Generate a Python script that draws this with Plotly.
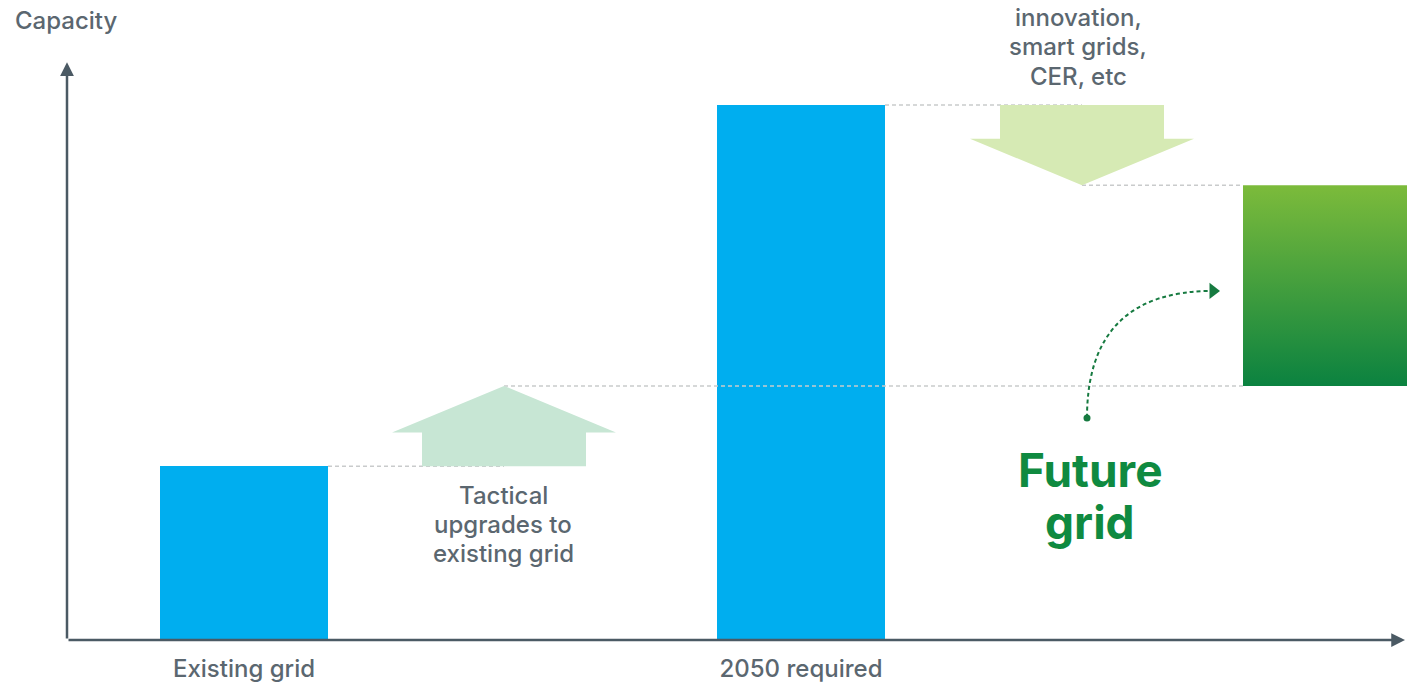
import plotly.graph_objects as go

# ---------------- data ----------------
categories = ["Existing grid", "2050 required", "Future grid"]
bar_low = [0, 0, 47.5]
bar_high = [32.5, 100, 85]
step_labels = [["Tactical", "upgrades to", "existing grid"],
               ["innovation,", "smart grids,", "CER, etc"]]
step_from = [32.5, 100]
step_to = [47.5, 85]
axis_title = "Capacity"
future_label = ["Future", "grid"]

# ---------------- layout constants ----------------
cat_x = [177, 734, 1260]
bar_w = 168
step_x = [437, 1015]
shaft_half = 82
head_half = 112
head_frac = 0.58
X_MAX = 1340
PX = 5.35            # pixels per capacity unit
Y_MAX = 640 / PX

BLUE = "#00aeef"
AXIS = "#4b5a64"
TEXT = "#5b6770"
DASH = "#c9cbcc"
GREEN = "#0f8a40"
UP_FILL = "#c7e6d4"
DOWN_FILL = "#d6eab4"
FONT = "Inter"

fig = go.Figure()

def hline(x0, x1, y):
    fig.add_trace(go.Scatter(x=[x0, x1], y=[y, y], mode="lines",
                             line=dict(color=DASH, width=1.5, dash="4px,3px"),
                             hoverinfo="skip", showlegend=False))

left = [c - bar_w / 2 for c in cat_x]
right = [c + bar_w / 2 for c in cat_x]

# dashed guide lines (drawn first so bars/arrows cover them)
hline(right[0], step_x[0], step_from[0])
hline(step_x[0], left[2], step_to[0])
hline(right[1], step_x[1], step_from[1])
hline(step_x[1], left[2], step_to[1])

# blue bars
fig.add_trace(go.Bar(x=cat_x[:2], y=[bar_high[i] - bar_low[i] for i in range(2)],
                     base=bar_low[:2], width=bar_w, marker=dict(color=BLUE, line=dict(width=0)),
                     hoverinfo="skip", showlegend=False))

# future grid bar with vertical gradient
fx = [left[2], right[2], right[2], left[2], left[2]]
fy = [bar_low[2], bar_low[2], bar_high[2], bar_high[2], bar_low[2]]
fig.add_trace(go.Scatter(x=fx, y=fy, mode="lines", fill="toself", line=dict(width=0),
                         fillgradient=dict(type="vertical",
                                           colorscale=[[0, "#0b8240"], [1, "#7cbb3b"]]),
                         hoverinfo="skip", showlegend=False))

# block arrows
for i, fill in enumerate([UP_FILL, DOWN_FILL]):
    cx, y0, y1 = step_x[i], step_from[i], step_to[i]
    yh = y1 - head_frac * (y1 - y0)
    xs = [cx - shaft_half, cx + shaft_half, cx + shaft_half, cx + head_half, cx,
          cx - head_half, cx - shaft_half, cx - shaft_half]
    ys = [y0, y0, yh, yh, y1, yh, yh, y0]
    fig.add_trace(go.Scatter(x=xs, y=ys, mode="lines", fill="toself", fillcolor=fill,
                             line=dict(width=0), hoverinfo="skip", showlegend=False))

# curved dashed arrow towards future grid bar
sx, sy = 1020, 41.5
ex, ey = left[2] - 30, (bar_low[2] + bar_high[2]) / 2 - 1
fig.add_shape(type="path", xref="x", yref="y",
              path=f"M {sx},{sy} Q {sx},{ey} {ex},{ey}",
              line=dict(color="#167a40", width=2, dash="4px,3px"))
fig.add_trace(go.Scatter(x=[sx], y=[sy], mode="markers",
                         marker=dict(symbol="circle", size=7, color="#167a40"),
                         hoverinfo="skip", showlegend=False))
fig.add_trace(go.Scatter(x=[ex], y=[ey], mode="markers",
                         marker=dict(symbol="triangle-right", size=14, color="#167a40"),
                         hoverinfo="skip", showlegend=False))

# axes as arrows
fig.add_annotation(x=0, y=108, ax=0, ay=0, xref="x", yref="y", axref="x", ayref="y",
                   text="", showarrow=True, arrowhead=2, arrowsize=1.1, arrowwidth=2.5,
                   arrowcolor=AXIS)
fig.add_annotation(x=1338, y=0, ax=0, ay=0, xref="x", yref="y", axref="x", ayref="y",
                   text="", showarrow=True, arrowhead=2, arrowsize=1.1, arrowwidth=2.5,
                   arrowcolor=AXIS)

def label_lines(lines, x, first_px, spacing, size, color, weight):
    for k, line in enumerate(lines):
        fig.add_annotation(x=x, y=(640 - first_px - k * spacing) / PX, xref="x", yref="y",
                           xanchor="center", yanchor="middle", text=line, showarrow=False,
                           font=dict(family=FONT, size=size, color=color, weight=weight))

# texts
fig.add_annotation(x=-54 / X_MAX, y=1 - 20 / 640, xref="paper", yref="paper",
                   xanchor="left", yanchor="middle", text=axis_title, showarrow=False,
                   font=dict(family=FONT, size=24, color=TEXT, weight=500))
label_lines(step_labels[0], 436, 495, 29, 24, TEXT, 500)
label_lines(step_labels[1], 1011, 17, 29.5, 24, TEXT, 500)
label_lines(future_label, 1023, 470, 52, 46, GREEN, 700)

fig.update_layout(
    width=1407, height=684,
    margin=dict(l=67, r=0, t=0, b=44),
    paper_bgcolor="white", plot_bgcolor="white",
    bargap=0,
    xaxis=dict(range=[0, X_MAX], showgrid=False, zeroline=False, showline=False,
               tickvals=cat_x[:2], ticktext=categories[:2], ticks="",
               ticklabelstandoff=12,
               tickfont=dict(family=FONT, size=24, color=TEXT, weight=500), fixedrange=True),
    yaxis=dict(range=[0, Y_MAX], showgrid=False, zeroline=False, showline=False,
               showticklabels=False, ticks="", fixedrange=True),
)

fig.write_html("out.html")
